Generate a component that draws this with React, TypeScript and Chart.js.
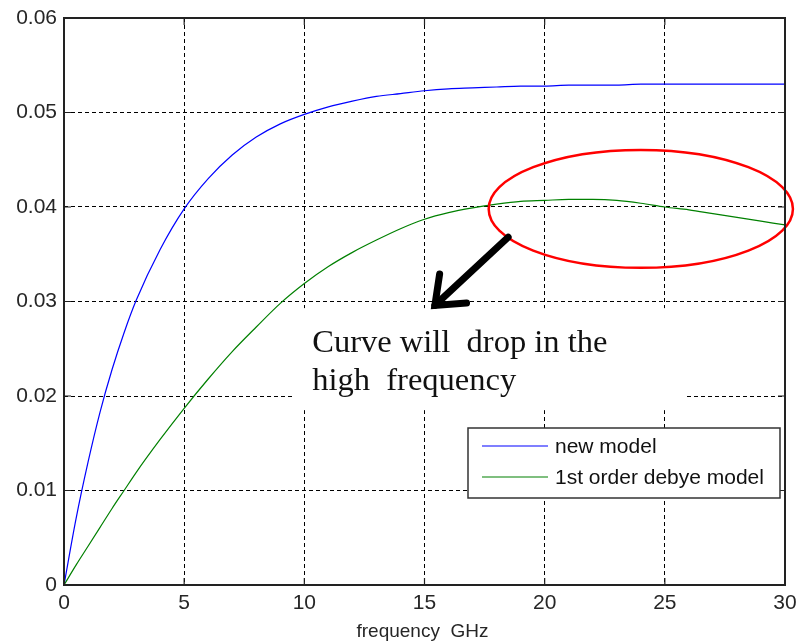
import React, { useEffect, useRef } from "react";
import { Chart, registerables } from "chart.js";

Chart.register(...registerables);

const freqGHz = [0, 0.5, 1, 1.5, 2, 2.5, 3, 4, 5, 6, 7, 8, 9, 10, 11, 12, 13, 14, 15, 16, 17, 18, 19, 20, 21, 22, 23, 24, 25, 26, 27, 28, 29, 30];
const newModel = [0, 0.007, 0.013, 0.0183, 0.0228, 0.0267, 0.0301, 0.0355, 0.0398, 0.043, 0.0455, 0.0474, 0.0488, 0.0498, 0.0506, 0.0512, 0.0517, 0.052, 0.0523, 0.0525, 0.0526, 0.0527, 0.0528, 0.0528, 0.0529, 0.0529, 0.0529, 0.053, 0.053, 0.053, 0.053, 0.053, 0.053, 0.053];
const debyeModel = [0, 0.0021, 0.0041, 0.0061, 0.0081, 0.01, 0.0119, 0.0154, 0.0187, 0.0218, 0.0247, 0.0273, 0.0298, 0.0319, 0.0337, 0.0352, 0.0365, 0.0377, 0.0387, 0.0394, 0.0399, 0.0403, 0.0406, 0.0407, 0.0408, 0.0408, 0.0407, 0.0404, 0.04, 0.0397, 0.0393, 0.0389, 0.0385, 0.0381];

const seriesNames = ["new model", "1st order debye model"];
const seriesColors = ["#0000ff", "#008000"];
const xTitle = "frequency  GHz";
const noteLines = ["Curve will  drop in the", "high  frequency"];

// annotation anchors in data coordinates
const noteBox = { x0: 9.5, x1: 25.8, y0: 0.0293, y1: 0.0185 };
const noteText = { x: 10.33, y: 0.0247 };
const ellipse = { cx: 24.0, cy: 0.0398, rx: 6.33, ry: 0.00624 };
const arrow = { x0: 18.48, y0: 0.0368, x1: 15.31, y1: 0.0293 };

export default function App() {
  const ref = useRef<HTMLCanvasElement>(null);

  useEffect(() => {
    document.body.style.margin = "0";
    const canvas = ref.current;
    if (!canvas) return;

    const annot = {
      id: "annot",
      beforeDatasetsDraw(chart: any) {
        const { ctx, scales } = chart;
        const xs = scales.x, ys = scales.y;
        const x0 = xs.getPixelForValue(noteBox.x0), x1 = xs.getPixelForValue(noteBox.x1);
        const y0 = ys.getPixelForValue(noteBox.y0), y1 = ys.getPixelForValue(noteBox.y1);
        ctx.save();
        ctx.fillStyle = "#ffffff";
        ctx.fillRect(x0, y0, x1 - x0, y1 - y0);
        ctx.fillStyle = "#111111";
        ctx.font = "32.5px 'Liberation Serif'";
        ctx.textAlign = "left";
        ctx.textBaseline = "alphabetic";
        const tx = xs.getPixelForValue(noteText.x);
        const ty = ys.getPixelForValue(noteText.y);
        noteLines.forEach((l, i) => ctx.fillText(l, tx, ty + i * 38));
        ctx.restore();
      },
      afterDatasetsDraw(chart: any) {
        const { ctx, scales } = chart;
        const xs = scales.x, ys = scales.y;
        ctx.save();
        const cx = xs.getPixelForValue(ellipse.cx);
        const cy = ys.getPixelForValue(ellipse.cy);
        const rx = xs.getPixelForValue(ellipse.cx + ellipse.rx) - cx;
        const ry = cy - ys.getPixelForValue(ellipse.cy + ellipse.ry);
        ctx.beginPath();
        ctx.ellipse(cx, cy, rx, ry, 0, 0, Math.PI * 2);
        ctx.strokeStyle = "#ff0000";
        ctx.lineWidth = 2.5;
        ctx.stroke();
        const ax0 = xs.getPixelForValue(arrow.x0), ay0 = ys.getPixelForValue(arrow.y0);
        const ax1 = xs.getPixelForValue(arrow.x1), ay1 = ys.getPixelForValue(arrow.y1);
        const ang = Math.atan2(ay0 - ay1, ax0 - ax1);
        const hl = 35, ha = 0.6;
        ctx.strokeStyle = "#000000";
        ctx.lineWidth = 7;
        ctx.lineCap = "round";
        ctx.lineJoin = "miter";
        ctx.beginPath();
        ctx.moveTo(ax0, ay0);
        ctx.lineTo(ax1 + Math.cos(ang) * 4, ay1 + Math.sin(ang) * 4);
        ctx.stroke();
        ctx.beginPath();
        ctx.moveTo(ax1 + Math.cos(ang - ha) * hl, ay1 + Math.sin(ang - ha) * hl);
        ctx.lineTo(ax1 + Math.cos(ang) * 4, ay1 + Math.sin(ang) * 4);
        ctx.lineTo(ax1 + Math.cos(ang + ha) * hl, ay1 + Math.sin(ang + ha) * hl);
        ctx.stroke();
        ctx.restore();
      },
      afterDraw(chart: any) {
        const { ctx, chartArea, scales } = chart;
        const { left, right, top, bottom } = chartArea;
        ctx.save();
        ctx.strokeStyle = "#222222";
        ctx.lineWidth = 1.2;
        ctx.setLineDash([]);
        scales.x.ticks.forEach((t: any) => {
          const p = scales.x.getPixelForValue(t.value);
          ctx.beginPath();
          ctx.moveTo(p, bottom); ctx.lineTo(p, bottom - 7);
          ctx.moveTo(p, top); ctx.lineTo(p, top + 7);
          ctx.stroke();
        });
        scales.y.ticks.forEach((t: any) => {
          const p = scales.y.getPixelForValue(t.value);
          ctx.beginPath();
          ctx.moveTo(left, p); ctx.lineTo(left + 7, p);
          ctx.moveTo(right, p); ctx.lineTo(right - 7, p);
          ctx.stroke();
        });
        ctx.strokeStyle = "#222222";
        ctx.lineWidth = 2;
        ctx.strokeRect(left, top, right - left, bottom - top);
        // legend
        const lx = right - 317, ly = bottom - 157, lw = 312, lh = 70;
        ctx.fillStyle = "#ffffff";
        ctx.fillRect(lx, ly, lw, lh);
        ctx.strokeStyle = "#333333";
        ctx.lineWidth = 1.5;
        ctx.strokeRect(lx, ly, lw, lh);
        ctx.font = "21px 'Liberation Sans'";
        ctx.textAlign = "left";
        ctx.textBaseline = "middle";
        seriesNames.forEach((n, i) => {
          const yy = ly + 18 + i * 31;
          ctx.strokeStyle = seriesColors[i];
          ctx.lineWidth = 1.2;
          ctx.beginPath();
          ctx.moveTo(lx + 14, yy);
          ctx.lineTo(lx + 80, yy);
          ctx.stroke();
          ctx.fillStyle = "#111111";
          ctx.fillText(n, lx + 87, yy + 1);
        });
        ctx.font = "19px 'Liberation Sans'";
        ctx.textAlign = "center";
        ctx.textBaseline = "alphabetic";
        ctx.fillStyle = "#262626";
        ctx.fillText(xTitle, (left + right) / 2 - 2, 637);
        ctx.restore();
      },
    };

    const chart = new Chart(canvas, {
      type: "line",
      data: {
        datasets: [
          {
            label: seriesNames[0],
            data: freqGHz.map((x, i) => ({ x, y: newModel[i] })),
            borderColor: seriesColors[0],
            borderWidth: 1.2,
            pointRadius: 0,
            cubicInterpolationMode: "monotone",
            fill: false,
          },
          {
            label: seriesNames[1],
            data: freqGHz.map((x, i) => ({ x, y: debyeModel[i] })),
            borderColor: seriesColors[1],
            borderWidth: 1.2,
            pointRadius: 0,
            cubicInterpolationMode: "monotone",
            fill: false,
          },
        ],
      },
      options: {
        responsive: true,
        maintainAspectRatio: false,
        animation: false,
        layout: { padding: { top: 18, right: 13, left: 0, bottom: 0 } },
        plugins: { legend: { display: false }, tooltip: { enabled: false } },
        scales: {
          x: {
            type: "linear",
            min: 0,
            max: 30,
            ticks: {
              stepSize: 5,
              maxRotation: 0,
              padding: 6,
              color: "#262626",
              font: { family: "'Liberation Sans'", size: 21 },
            },
            grid: { color: "#000000", lineWidth: 1, drawTicks: false },
            border: { display: false, dash: [4, 3] },
            afterFit(s: any) { s.height = 58; s.paddingLeft = 0; s.paddingRight = 0; },
          },
          y: {
            min: 0,
            max: 0.06,
            ticks: {
              stepSize: 0.01,
              padding: 7,
              color: "#262626",
              font: { family: "'Liberation Sans'", size: 21 },
              callback: (v: any) => (Number(v) === 0 ? "0" : Number(v).toFixed(2)),
            },
            grid: { color: "#000000", lineWidth: 1, drawTicks: false },
            border: { display: false, dash: [4, 3] },
            afterFit(s: any) { s.width = 64; s.paddingTop = 0; s.paddingBottom = 0; },
          },
        },
      },
      plugins: [annot],
    } as any);

    return () => chart.destroy();
  }, []);

  return (
    <div style={{ position: "relative", width: 798, height: 643 }}>
      <canvas ref={ref} />
    </div>
  );
}
